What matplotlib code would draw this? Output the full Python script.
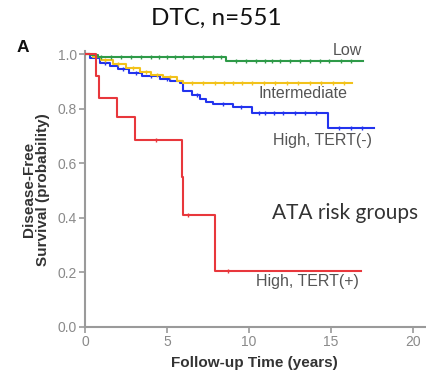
import matplotlib
matplotlib.use("Agg")
import matplotlib.pyplot as plt

# ---- data ----
low_t = [0, 0.3, 0.8, 1.5, 8.6, 16.95]
low_s = [1.0, 0.995, 0.99, 0.988, 0.975, 0.975]
low_cens = [1.0, 1.6, 2.2, 2.8, 3.4, 4.0, 4.5, 5.0, 5.5, 6.0, 6.6, 7.2, 7.8, 8.3,
            9.2, 9.8, 10.4, 11.0, 11.4, 11.9, 12.5, 13.1, 13.7, 14.3, 14.9, 15.6, 16.2]

int_t = [0, 0.5, 1.0, 1.7, 2.5, 3.35, 4.0, 4.75, 5.6, 6.0, 16.3]
int_s = [1.0, 0.99, 0.98, 0.965, 0.95, 0.934, 0.925, 0.916, 0.9, 0.894, 0.894]
int_cens = [1.2, 2.0, 2.9, 3.7, 4.4, 5.2, 6.5, 7.2, 7.9, 8.5, 9.0, 9.6, 10.2, 10.9,
            11.6, 12.3, 13.0, 13.7, 14.4, 15.1, 15.8]

high_neg_t = [0, 0.3, 0.9, 1.5, 2.0, 2.7, 3.5, 4.6, 5.2, 5.8, 6.0, 6.5, 7.0, 7.4,
              7.8, 9.0, 10.2, 14.8, 17.6]
high_neg_s = [1.0, 0.985, 0.967, 0.955, 0.945, 0.93, 0.92, 0.91, 0.9, 0.894, 0.865,
              0.85, 0.835, 0.825, 0.817, 0.806, 0.784, 0.73, 0.73]
high_neg_cens = [1.2, 2.3, 3.1, 4.0, 5.0, 6.8, 8.4, 9.5, 10.6, 11.0, 11.5, 12.1,
                 12.8, 13.4, 14.1, 15.5, 16.2, 16.9]

high_pos_t = [0, 0.7, 0.85, 1.95, 3.05, 5.9, 6.0, 7.93, 16.8]
high_pos_s = [1.0, 0.92, 0.84, 0.77, 0.685, 0.55, 0.41, 0.205, 0.205]
high_pos_cens = [4.3, 6.3, 8.7]

group_labels = ["Low", "Intermediate", "High, TERT(-)", "High, TERT(+)"]
x_ticks = [0, 5, 10, 15, 20]
y_ticks = [0.0, 0.2, 0.4, 0.6, 0.8, 1.0]

# ---- figure ----
fig = plt.figure(figsize=(4.26, 3.75), dpi=100)
ax = fig.add_axes([0.1995, 0.128, 0.797, 0.735])

series = [
    (high_neg_t, high_neg_s, high_neg_cens, "#2233ee"),
    (int_t, int_s, int_cens, "#f2c21b"),
    (low_t, low_s, low_cens, "#2e9a48"),
    (high_pos_t, high_pos_s, high_pos_cens, "#e8373c"),
]


def surv_at(t_list, s_list, t):
    v = s_list[0]
    for ti, si in zip(t_list, s_list):
        if ti <= t:
            v = si
    return v


for t, s, c, col in series:
    ax.step(t, s, where="post", color=col, lw=1.5, zorder=3)
    ax.plot(c, [surv_at(t, s, ci) for ci in c], linestyle="none", marker="|",
            markersize=3.5, mew=1.0, color=col, zorder=3)

ax.set_xlim(0, 20.7)
ax.set_ylim(0, 1.01)
ax.set_xticks(x_ticks)
ax.set_yticks(y_ticks)
ax.set_xticklabels([str(v) for v in x_ticks])
ax.set_yticklabels([f"{v:.1f}" for v in y_ticks])

gray = "#9a9a9a"
for side in ["top", "right"]:
    ax.spines[side].set_visible(False)
for side in ["left", "bottom"]:
    ax.spines[side].set_color(gray)
    ax.spines[side].set_linewidth(1.5)
ax.tick_params(direction="out", length=4.5, width=1.2, color=gray,
               labelcolor="#8a8a8a", labelsize=10, pad=1.5)
for lab in ax.get_xticklabels() + ax.get_yticklabels():
    lab.set_family("Liberation Sans")

ax.set_xlabel("Follow-up Time (years)", family="Liberation Sans", fontweight="bold",
              fontsize=11, color="#333333", labelpad=5)
ax.set_ylabel("Disease-Free\nSurvival (probability)", family="Liberation Sans",
              fontweight="bold", fontsize=11, color="#333333", labelpad=5,
              linespacing=1.0)

lab_kw = dict(family="Liberation Sans", fontsize=11.5, color="#555555",
              ha="center", va="center")
ax.text(15.98, 1.015, group_labels[0], **lab_kw)
ax.text(13.3, 0.857, group_labels[1], **lab_kw)
ax.text(14.5, 0.685, group_labels[2], **lab_kw)
ax.text(13.54, 0.165, group_labels[3], **lab_kw)
ax.text(15.85, 0.418, "ATA risk groups", family="Lato", fontsize=15,
        color="#333333", ha="center", va="center")

fig.text(216 / 426, 1 - 18 / 375, "DTC, n=551", family="Lato", fontsize=17.5,
         color="#111111", ha="center", va="center")
fig.text(23 / 426, 1 - 48 / 375, "A", family="Liberation Sans", fontweight="bold",
         fontsize=12.5, color="#111111", ha="center", va="center")

fig.savefig("out.png", dpi=100)
